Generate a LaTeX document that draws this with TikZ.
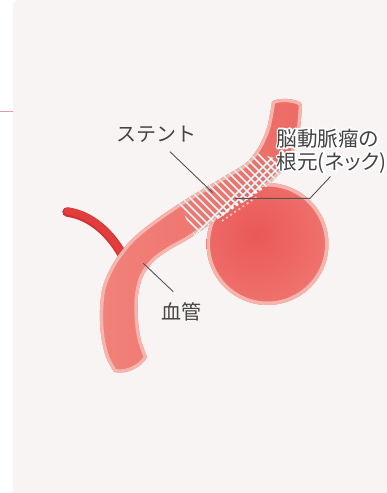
\documentclass[tikz,border=0pt]{standalone}
\usepackage{fontspec}
\newfontfamily\jpfont{Noto Sans CJK JP}
\newfontfamily\jpfontp[RawFeature=+palt]{Noto Sans CJK JP}

\definecolor{panel}{HTML}{F8F4F3}
\definecolor{sideline}{HTML}{E49CA2}
\definecolor{vesselL}{HTML}{F1827B}
\definecolor{vesselR}{HTML}{EC6A64}
\definecolor{vesselrim}{HTML}{F5B5AC}
\definecolor{sacin}{HTML}{E95857}
\definecolor{sacout}{HTML}{F07570}
\definecolor{neckfill}{HTML}{EC6662}
\definecolor{branchred}{HTML}{E23D3D}
\definecolor{branchdark}{HTML}{D23232}
\definecolor{meshgray}{HTML}{BDBDBD}
\definecolor{meshwhite}{HTML}{F4F4F4}
\definecolor{labelgray}{HTML}{444444}
\definecolor{leadergray}{HTML}{555555}

% outline of the main vessel (outer edge down, inner edge back up)
\newcommand\tubeoutline{plot[smooth,tension=.55] coordinates {(272,102) (267,128) (258,148) (246,163) (230,173) (210,185) (188,198) (158,218) (132,239) (114,262) (103,286) (100,310) (101,335) (106,357) (114,372)}
  .. controls (127,375) and (142,367) .. (147,357)
  -- plot[smooth,tension=.55] coordinates {(147,357) (141,340) (138,320) (138,296) (143,276) (154,261) (169,250) (190,238) (215,221) (245,201) (267,186) (283,170) (294,151) (300,128) (302,105)}
  .. controls (301,98) and (275,97) .. (272,102) -- cycle}

% text drawn as a thick white outline, used as a halo behind labels
\newcommand\haloon{\special{pdf:literal direct 1 j 2 Tr 3.6 w}}
\newcommand\halooff{\special{pdf:literal direct 0 Tr}}

\begin{document}
\begin{tikzpicture}[x=1pt,y=-1pt,
  lbl/.style={font=\jpfont\fontsize{20}{24}\selectfont, text=labelgray, inner sep=0pt},
  lblneck/.style={lbl, font=\jpfontp\fontsize{20.6}{24}\selectfont, anchor=west},
  leader/.style={draw=leadergray, line width=0.9pt},
  meshback/.style={draw=meshgray, line width=1.9pt},
  meshfront/.style={draw=meshwhite, line width=1.1pt},
  halo/.style={text=white}]
\useasboundingbox (0,0) rectangle (386,493);

% page and panel
\fill[white] (0,0) rectangle (386,493);
\fill[panel, rounded corners=6pt] (13,0) rectangle (400,510);
\draw[sideline, line width=1.4pt] (0,111.6) -- (12.6,111.6);

% small side branch, running under the main vessel
\draw[branchdark, line width=9.5pt, line cap=round] (67,212) .. controls (89,215) and (111,231) .. (126,262);
\draw[branchred, line width=7pt, line cap=round] (67,211) .. controls (89,214) and (111,230) .. (125,261);

% aneurysm sac
\begin{scope}
  \clip (267.5,244) circle (61);
  \shade[inner color=sacin, outer color=sacout] (256,234) circle (80);
  \draw[vesselrim, line width=7pt] (267.5,244) circle (61);
\end{scope}

% main vessel with its light rim
\begin{scope}
  \clip \tubeoutline;
  \shade[left color=vesselL, right color=vesselR] (95,95) rectangle (310,380);
  \draw[vesselrim, line width=6.5pt, line join=round] \tubeoutline;
\end{scope}

% open neck between vessel and sac
\begin{scope}
  \clip (267.5,244) circle (57);
  \fill[neckfill] (196.6,225.3) -- (276.6,170.4) -- (282.3,178.7) -- (202.3,233.6) -- cycle;
\end{scope}

% stent mesh inside the vessel
\begin{scope}
  \clip \tubeoutline;
  \clip (176,198) -- (198,242) -- (282,174) -- (274,158) -- (252,152) -- cycle;
  \foreach \k in {-80,-72,...,140} {
    \draw[meshback] (\k+140,140) -- (\k+250,250);
    \draw[meshback] (\k+370,140) -- (\k+260,250);
  }
  \foreach \k in {-80,-72,...,140} {
    \draw[meshfront] (\k+140,140) -- (\k+250,250);
    \draw[meshfront] (\k+370,140) -- (\k+260,250);
  }
\end{scope}
% mesh bunched at the neck
\draw[white, line width=2.6pt, opacity=.8, dash pattern=on 3pt off 2.5pt] (217,217) -- (262,188);
\draw[white, line width=1.8pt, opacity=.6, dash pattern=on 2pt off 3pt] (222,221) -- (258,196);

% labels
\node[lbl] (stent) at (156,134.7) {ステント};
\node[lbl] (vessel) at (181,312) {血管};
\node[lblneck, halo] at (276.5,138.3) {\haloon 脳動脈瘤の\halooff};
\node[lblneck, halo] at (276.5,162.5) {\haloon 根元(ネック)\halooff};
\node[lblneck] (neckA) at (276.5,138.3) {脳動脈瘤の};
\node[lblneck] (neckB) at (276.5,162.5) {根元(ネック)};

% leader lines
\coordinate (stentFrom) at (170,151.7);
\coordinate (stentTo) at (212.5,192.5);
\coordinate (neckFrom) at (330.5,176.5);
\coordinate (neckBend) at (310,198.3);
\coordinate (neckTo) at (235,198.3);
\coordinate (vesselFrom) at (173.3,291.7);
\coordinate (vesselTo) at (143.3,263.3);
\draw[leader] (stentFrom) -- (stentTo);
\draw[leader] (neckFrom) -- (neckBend) -- (neckTo);
\draw[leader] (vesselFrom) -- (vesselTo);
\end{tikzpicture}
\end{document}
